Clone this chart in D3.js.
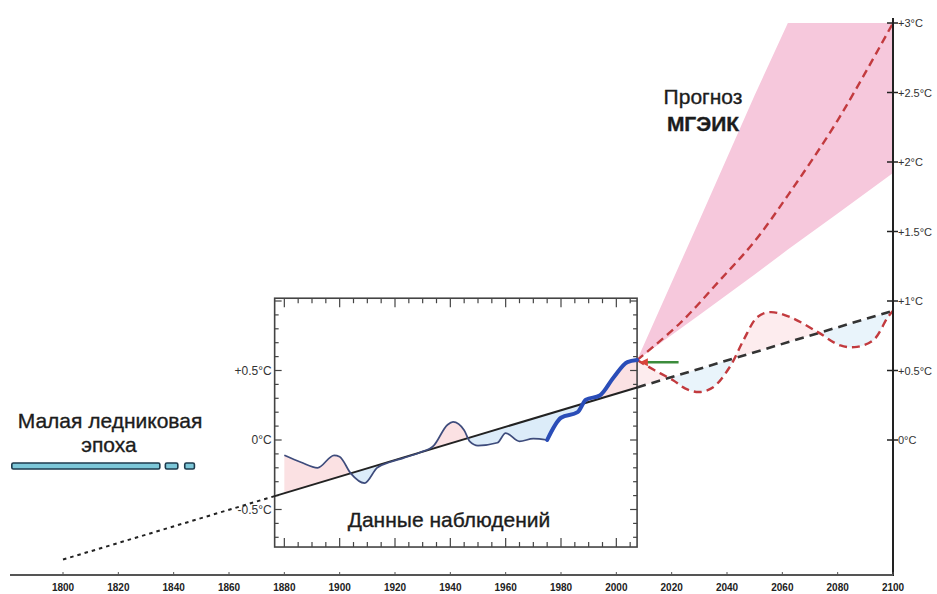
<!DOCTYPE html>
<html>
<head>
<meta charset="utf-8">
<script src="https://cdn.jsdelivr.net/npm/d3@7/dist/d3.min.js"></script>
<style>
  html, body { margin: 0; padding: 0; background: #fff; }
  svg { display: block; font-family: "Liberation Sans", Arial, Helvetica, sans-serif; }
</style>
</head>
<body>
<svg id="chart" width="937" height="594"></svg>
<script>
// ---- data ----
const axisYears = [1800, 1820, 1840, 1860, 1880, 1900, 1920, 1940, 1960, 1980, 2000, 2020, 2040, 2060, 2080, 2100];
const rightTicks = [0, 0.5, 1, 1.5, 2, 2.5, 3];
const rightTickLabels = ["0°C", "+0.5°C", "+1°C", "+1.5°C", "+2°C", "+2.5°C", "+3°C"];
const insetTicks = [-0.5, 0, 0.5];
const insetTickLabels = ["-0.5°C", "0°C", "+0.5°C"];

// linear warming trend
const trendYears = [1800, 2100];
const trendTemps = [-0.86, 0.93];

// observed anomalies (smoothed)
const obsYears = [1880, 1886, 1892, 1898, 1900, 1904, 1909, 1913.5, 1918, 1923, 1929, 1934, 1939, 1941, 1945, 1947, 1950, 1957, 1960, 1965, 1970, 1975, 1980, 1986, 1989, 1994, 1999, 2004, 2007.5];
const obsTemps = [-0.11, -0.16, -0.20, -0.11, -0.12, -0.24, -0.31, -0.20, -0.16, -0.13, -0.09, -0.04, 0.11, 0.13, 0.07, -0.01, -0.04, -0.02, 0.05, -0.01, 0.01, 0.00, 0.16, 0.20, 0.29, 0.32, 0.45, 0.56, 0.575];
const obsThickFrom = 1975;

// projection envelope
const fanYears = [2007.5, 2030, 2050, 2062, 2080, 2100];
const fanUpper = [0.575, 1.58, 2.48, 3.0, 3.0, 3.0];
const fanLower = [0.575, 0.90, 1.19, 1.37, 1.63, 1.92];

// central projection
const projYears = [2007.5, 2023, 2037, 2050, 2062, 2080, 2100];
const projTemps = [0.575, 0.84, 1.14, 1.43, 1.76, 2.30, 3.0];

// oscillating scenario around the trend
const waveYears = [2007.5, 2014, 2020.5, 2025, 2030, 2035, 2041, 2046, 2051, 2055.5, 2062.7, 2072.5, 2081, 2087, 2093, 2098, 2100];
const waveTemps = [0.575, 0.50, 0.43, 0.37, 0.345, 0.38, 0.525, 0.72, 0.885, 0.92, 0.885, 0.78, 0.68, 0.67, 0.72, 0.88, 0.93];

// pointer at the end of observations
const arrowYears = [2008.5, 2022.5];
const arrowTemp = 0.56;

// Little Ice Age bar segments
const iceAgeSegments = [[1781.5, 1835], [1837, 1841.5], [1844, 1847.5]];

// ---- layout ----
const svg = d3.select("#chart");
const x = d3.scaleLinear().domain([1800, 2100]).range([63, 893]);
const y = d3.scaleLinear().domain([0, 3]).range([440, 23]);
const axisY = 575;
const insetX = [1876.5, 2007.5];
const insetT = [-0.77, 1.02];

const trendAt = d3.scaleLinear().domain(trendYears).range(trendTemps);

// clip regions above / below the trend line
const defs = svg.append("defs");
const xl = 0, xr = 937;
const yrL = x.invert(xl), yrR = x.invert(xr);
defs.append("clipPath").attr("id", "above").append("path")
  .attr("d", `M${xl},0 L${xl},${y(trendAt(yrL))} L${xr},${y(trendAt(yrR))} L${xr},0 Z`);
defs.append("clipPath").attr("id", "below").append("path")
  .attr("d", `M${xl},594 L${xl},${y(trendAt(yrL))} L${xr},${y(trendAt(yrR))} L${xr},594 Z`);

// ---- projection fan ----
const fan = fanYears.map((yr, i) => ({yr, lo: fanLower[i], hi: fanUpper[i]}));
svg.append("path").datum(fan)
  .attr("fill", "#f6c8dc")
  .attr("d", d3.area().x(d => x(d.yr)).y0(d => y(d.lo)).y1(d => y(d.hi)));

// ---- fills between curves and trend ----
const obs = obsYears.map((yr, i) => ({yr, t: obsTemps[i]}));
const wave = waveYears.map((yr, i) => ({yr, t: waveTemps[i]}));
const obsCurve = d3.curveMonotoneX;
const waveCurve = d3.curveCatmullRom.alpha(0.5);

function band(data, curve) {
  return d3.area().curve(curve).x(d => x(d.yr)).y0(d => y(trendAt(d.yr))).y1(d => y(d.t))(data);
}
svg.append("path").attr("d", band(obs, obsCurve)).attr("fill", "#fbe1e3").attr("clip-path", "url(#above)");
svg.append("path").attr("d", band(obs, obsCurve)).attr("fill", "#dcecf9").attr("clip-path", "url(#below)");
svg.append("path").attr("d", band(wave, waveCurve)).attr("fill", "#fdecee").attr("clip-path", "url(#above)");
svg.append("path").attr("d", band(wave, waveCurve)).attr("fill", "#e9f4fb").attr("clip-path", "url(#below)");

// ---- inset frame ----
const ix0 = x(insetX[0]), ix1 = x(insetX[1]);
const iy0 = y(insetT[1]), iy1 = y(insetT[0]);
const inset = svg.append("g");
inset.append("rect").attr("x", ix0).attr("y", iy0).attr("width", ix1 - ix0).attr("height", iy1 - iy0)
  .attr("fill", "none").attr("stroke", "#444").attr("stroke-width", 1.6);
const tickYears = d3.range(1880, 2006, 5);
tickYears.forEach(yr => {
  const len = yr % 20 === 0 ? 9 : 5;
  inset.append("line").attr("x1", x(yr)).attr("x2", x(yr)).attr("y1", iy0).attr("y2", iy0 + len)
    .attr("stroke", "#444").attr("stroke-width", 1.2);
  inset.append("line").attr("x1", x(yr)).attr("x2", x(yr)).attr("y1", iy1).attr("y2", iy1 - len)
    .attr("stroke", "#444").attr("stroke-width", 1.2);
});
const tickTemps = d3.range(-7, 11).map(v => v / 10);
tickTemps.forEach(t => {
  const len = Math.abs(t * 2 - Math.round(t * 2)) < 1e-6 ? 7 : 4;
  inset.append("line").attr("x1", ix0).attr("x2", ix0 + len).attr("y1", y(t)).attr("y2", y(t))
    .attr("stroke", "#444").attr("stroke-width", 1.2);
  inset.append("line").attr("x1", ix1).attr("x2", ix1 - len).attr("y1", y(t)).attr("y2", y(t))
    .attr("stroke", "#444").attr("stroke-width", 1.2);
});
insetTicks.forEach((t, i) => {
  inset.append("text").attr("x", ix0 - 3).attr("y", y(t) + 4)
    .attr("text-anchor", "end").attr("font-size", 12).attr("fill", "#333")
    .text(insetTickLabels[i]);
});

// ---- trend line: dotted past, solid observed, dashed future ----
const trendLine = (a, b) => `M${x(a)},${y(trendAt(a))} L${x(b)},${y(trendAt(b))}`;
svg.append("path").attr("d", trendLine(trendYears[0], insetX[0]))
  .attr("stroke", "#222").attr("stroke-width", 2).attr("stroke-dasharray", "3.5,4").attr("fill", "none");
svg.append("path").attr("d", trendLine(insetX[0], insetX[1]))
  .attr("stroke", "#222").attr("stroke-width", 2).attr("fill", "none");
svg.append("path").attr("d", trendLine(insetX[1], trendYears[1]))
  .attr("stroke", "#333").attr("stroke-width", 2.6).attr("stroke-dasharray", "9,6").attr("fill", "none");

// ---- projections ----
const proj = projYears.map((yr, i) => ({yr, t: projTemps[i]}));
svg.append("path").datum(proj)
  .attr("fill", "none").attr("stroke", "#c23a3e").attr("stroke-width", 2.4).attr("stroke-dasharray", "8,5")
  .attr("d", d3.line().curve(d3.curveCatmullRom.alpha(0.5)).x(d => x(d.yr)).y(d => y(d.t)));
svg.append("path").datum(wave)
  .attr("fill", "none").attr("stroke", "#c23a3e").attr("stroke-width", 2.4).attr("stroke-dasharray", "8,5")
  .attr("d", d3.line().curve(waveCurve).x(d => x(d.yr)).y(d => y(d.t)));

// ---- observed curve ----
const obsLine = d3.line().curve(obsCurve).x(d => x(d.yr)).y(d => y(d.t));
svg.append("path").datum(obs.filter(d => d.yr <= obsThickFrom))
  .attr("fill", "none").attr("stroke", "#3e4c7c").attr("stroke-width", 1.7).attr("d", obsLine);
svg.append("path").datum(obs.filter(d => d.yr >= obsThickFrom))
  .attr("fill", "none").attr("stroke", "#2a4db8").attr("stroke-width", 4).attr("stroke-linecap", "round").attr("d", obsLine);

// ---- pointer ----
svg.append("line").attr("x1", x(arrowYears[0]) + 4).attr("x2", x(arrowYears[1]))
  .attr("y1", y(arrowTemp)).attr("y2", y(arrowTemp))
  .attr("stroke", "#3c8c3c").attr("stroke-width", 2.5);
const ax = x(arrowYears[0]), ay = y(arrowTemp);
svg.append("path").attr("d", `M${ax},${ay} L${ax + 8},${ay - 4} L${ax + 8},${ay + 4} Z`).attr("fill", "#d9453a");

// ---- right temperature axis ----
svg.append("line").attr("x1", x(2100)).attr("x2", x(2100)).attr("y1", 18).attr("y2", axisY + 1)
  .attr("stroke", "#222").attr("stroke-width", 2);
rightTicks.forEach((t, i) => {
  svg.append("line").attr("x1", x(2100) - 6).attr("x2", x(2100) + 5).attr("y1", y(t)).attr("y2", y(t))
    .attr("stroke", "#222").attr("stroke-width", 1.5);
  svg.append("text").attr("x", x(2100) + 5).attr("y", y(t) + 4)
    .attr("font-size", 11).attr("fill", "#333").text(rightTickLabels[i]);
});

// ---- bottom year axis ----
svg.append("line").attr("x1", 10).attr("x2", x(2100)).attr("y1", axisY).attr("y2", axisY)
  .attr("stroke", "#555").attr("stroke-width", 2);
axisYears.forEach(yr => {
  svg.append("line").attr("x1", x(yr)).attr("x2", x(yr)).attr("y1", axisY - 3).attr("y2", axisY)
    .attr("stroke", "#555").attr("stroke-width", 1);
  svg.append("text").attr("x", x(yr)).attr("y", 591).attr("text-anchor", "middle")
    .attr("font-size", 10).attr("font-weight", "bold").attr("fill", "#222").text(yr);
});

// ---- Little Ice Age marker ----
iceAgeSegments.forEach(([a, b]) => {
  svg.append("rect").attr("x", x(a)).attr("y", 463).attr("width", x(b) - x(a)).attr("height", 6)
    .attr("rx", 1.5).attr("fill", "#7cc7d8").attr("stroke", "#1d3b4d").attr("stroke-width", 1.6);
});

// ---- captions ----
const caption = (tx, ty, str, weight) => svg.append("text")
  .attr("x", tx).attr("y", ty).attr("text-anchor", "middle")
  .attr("font-size", 21).attr("font-weight", weight || "normal")
  .attr("fill", "#1c1c1c").attr("stroke", "#1c1c1c").attr("stroke-width", 0.35)
  .text(str);
caption(110, 428, "Малая ледниковая");
caption(109, 452, "эпоха");
caption(449, 527, "Данные наблюдений");
caption(703, 104, "Прогноз");
caption(703, 131, "МГЭИК", "bold");
</script>
</body>
</html>
